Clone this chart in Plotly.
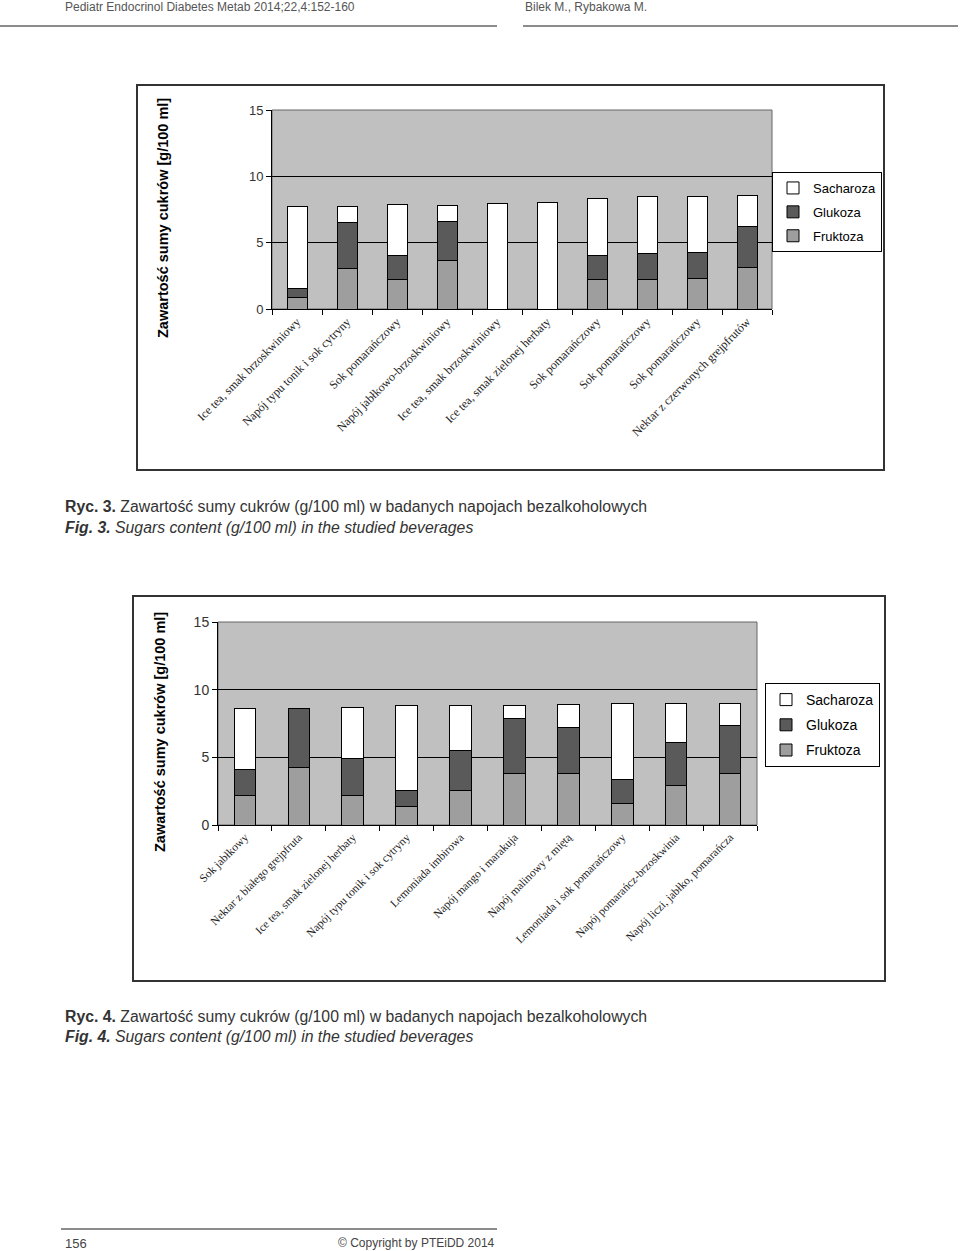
import plotly.graph_objects as go

# DATA - figure 3
drinks_fig3 = [
    "Ice tea, smak brzoskwiniowy",
    "Napój typu tonik i sok cytryny",
    "Sok pomarańczowy",
    "Napój jabłkowo-brzoskwiniowy",
    "Ice tea, smak brzoskwiniowy",
    "Ice tea, smak zielonej herbaty",
    "Sok pomarańczowy",
    "Sok pomarańczowy",
    "Sok pomarańczowy",
    "Nektar z czerwonych grejpfrutów",
]
fruktoza_fig3 = [0.90, 3.06, 2.23, 3.66, 0.0, 0.0, 2.23, 2.23, 2.33, 3.14]
glukoza_fig3 = [0.63, 3.46, 1.83, 2.96, 0.0, 0.0, 1.83, 1.93, 1.93, 3.06]
sacharoza_fig3 = [6.17, 1.20, 3.79, 1.20, 7.98, 8.05, 4.29, 4.29, 4.19, 2.38]

# DATA - figure 4
drinks_fig4 = [
    "Sok jabłkowy",
    "Nektar z białego grejpfruta",
    "Ice tea, smak zielonej herbaty",
    "Napój typu tonik i sok cytryny",
    "Lemoniada imbirowa",
    "Napój mango i marakuja",
    "Napój malinowy z miętą",
    "Lemoniada i sok pomarańczowy",
    "Napój pomarańcz-brzoskwinia",
    "Napój liczi, jabłko, pomarańcza",
]
fruktoza_fig4 = [2.17, 4.27, 2.17, 1.38, 2.57, 3.77, 3.77, 1.58, 2.89, 3.77]
glukoza_fig4 = [1.93, 4.32, 2.72, 1.19, 2.91, 4.13, 3.41, 1.80, 3.20, 3.61]
sacharoza_fig4 = [4.49, 0.0, 3.80, 6.24, 3.33, 0.91, 1.73, 5.62, 2.91, 1.62]

y_ticks = [0, 5, 10, 15]

W, H = 960, 1251
SANS = "Liberation Sans, Arial"
SERIF = "Liberation Serif, Times New Roman"
COLORS = {"Fruktoza": "#9e9e9e", "Glukoza": "#5a5a5a", "Sacharoza": "#ffffff"}
RANK = {"Sacharoza": 1, "Glukoza": 2, "Fruktoza": 3}


def px_x(v):
    return v / W


def px_y(v):
    return 1 - v / H


fig = go.Figure()


def add_chart(drinks, series, xa, ya, legend):
    xs = list(range(len(drinks)))
    for name, vals in series:
        fig.add_trace(go.Bar(
            x=xs, y=vals, name=name, xaxis=xa, yaxis=ya, legend=legend,
            legendgroup=legend + name, legendrank=RANK[name],
            marker=dict(color=COLORS[name], line=dict(color="black", width=1)),
        ))


add_chart(drinks_fig3, [("Fruktoza", fruktoza_fig3), ("Glukoza", glukoza_fig3),
                        ("Sacharoza", sacharoza_fig3)], "x", "y", "legend")
add_chart(drinks_fig4, [("Fruktoza", fruktoza_fig4), ("Glukoza", glukoza_fig4),
                        ("Sacharoza", sacharoza_fig4)], "x2", "y2", "legend2")


def xaxis_cfg(drinks, domain, anchor, size):
    return dict(
        domain=domain, anchor=anchor, range=[-0.5, len(drinks) - 0.5],
        tickvals=list(range(len(drinks))), ticktext=drinks, tickangle=-45,
        ticks="", showgrid=False, zeroline=False, automargin=False,
        showline=True, linecolor="black", linewidth=1,
        tickfont=dict(family=SERIF, size=size, color="#222"),
        minor=dict(ticks="outside", tick0=-0.5, dtick=1, ticklen=5,
                   tickcolor="black", showgrid=False),
    )


def yaxis_cfg(domain, anchor, size):
    return dict(
        domain=domain, anchor=anchor, range=[0, 15], tickvals=y_ticks,
        ticks="outside", ticklen=5, tickcolor="black", automargin=False,
        showgrid=True, gridcolor="black", gridwidth=1, zeroline=False,
        showline=True, linecolor="black", linewidth=1,
        tickfont=dict(family=SANS, size=size, color="#333"),
    )


def legend_cfg(right, top, size, gap):
    return dict(
        x=px_x(right), y=px_y(top), xanchor="right", yanchor="top",
        bgcolor="white", bordercolor="black", borderwidth=1,
        font=dict(family=SANS, size=size, color="black"),
        traceorder="grouped", tracegroupgap=gap, itemwidth=30,
    )


fig.update_layout(
    width=W, height=H,
    margin=dict(l=0, r=0, t=0, b=0, autoexpand=False),
    paper_bgcolor="white", plot_bgcolor="#c0c0c0",
    barmode="stack", bargap=0.6,
    xaxis=xaxis_cfg(drinks_fig3, [px_x(272), px_x(772)], "y", 12),
    yaxis=yaxis_cfg([px_y(309), px_y(110)], "x", 13),
    xaxis2=xaxis_cfg(drinks_fig4, [px_x(218), px_x(757)], "y2", 11.5),
    yaxis2=yaxis_cfg([px_y(825), px_y(622)], "x2", 14),
    legend=legend_cfg(882, 172, 13, 4),
    legend2=legend_cfg(880, 683, 14, 4),
)

# frames round each chart and gray plot-area borders
for x0, y0, x1, y1 in [(137, 85, 884, 470), (133, 596, 885, 981)]:
    fig.add_shape(type="rect", xref="paper", yref="paper",
                  x0=px_x(x0), y0=px_y(y0), x1=px_x(x1), y1=px_y(y1),
                  line=dict(color="#333", width=2), fillcolor="rgba(0,0,0,0)")
for xa, ya in [("x", "y"), ("x2", "y2")]:
    fig.add_shape(type="rect", xref=xa + " domain", yref=ya + " domain",
                  x0=0, y0=0, x1=1, y1=1, line=dict(color="#666", width=1),
                  layer="below")

# axis titles
for x, y in [(163, 218), (160, 732)]:
    fig.add_annotation(xref="paper", yref="paper", x=px_x(x), y=px_y(y),
                       xanchor="center", yanchor="middle",
                       text="<b>Zawartość sumy cukrów [g/100 ml]</b>", textangle=-90,
                       showarrow=False, font=dict(family=SANS, size=14.5, color="black"))

# page header / footer
page_font = dict(family=SANS, size=12, color="#555")
fig.add_annotation(xref="paper", yref="paper", x=px_x(63), y=px_y(7), xanchor="left",
                   yanchor="middle", text="Pediatr Endocrinol Diabetes Metab 2014;22,4:152-160",
                   showarrow=False, font=page_font)
fig.add_annotation(xref="paper", yref="paper", x=px_x(523), y=px_y(7), xanchor="left",
                   yanchor="middle", text="Bilek M., Rybakowa M.", showarrow=False, font=page_font)
for x0, x1, y in [(0, 497, 26), (523, 958, 26), (61, 497, 1229)]:
    fig.add_shape(type="line", xref="paper", yref="paper", x0=px_x(x0), x1=px_x(x1),
                  y0=px_y(y), y1=px_y(y), line=dict(color="#666", width=1.5))
fig.add_annotation(xref="paper", yref="paper", x=px_x(63), y=px_y(1243), xanchor="left",
                   yanchor="middle", text="156", showarrow=False,
                   font=dict(family=SANS, size=13, color="#444"))
fig.add_annotation(xref="paper", yref="paper", x=px_x(497), y=px_y(1243), xanchor="right",
                   yanchor="middle", text="© Copyright by PTEiDD 2014", showarrow=False,
                   font=dict(family=SANS, size=12, color="#444"))

# captions
cap_font = dict(family=SANS, size=15.8, color="#333")
for num, y in [(3, 507), (4, 1016)]:
    fig.add_annotation(xref="paper", yref="paper", x=px_x(63), y=px_y(y), xanchor="left",
                       yanchor="middle", showarrow=False, font=cap_font,
                       text=f"<b>Ryc. {num}.</b> Zawartość sumy cukrów (g/100 ml) w badanych napojach bezalkoholowych")
    fig.add_annotation(xref="paper", yref="paper", x=px_x(63), y=px_y(y + 20), xanchor="left",
                       yanchor="middle", showarrow=False, font=cap_font,
                       text=f"<b><i>Fig. {num}.</i></b> <i>Sugars content (g/100 ml) in the studied beverages</i>")

# page body has a default 8px margin; drop it so the figure fills the window
fig.write_html("out.html", config={"displayModeBar": False},
               post_script="document.body.style.margin='0px';")
